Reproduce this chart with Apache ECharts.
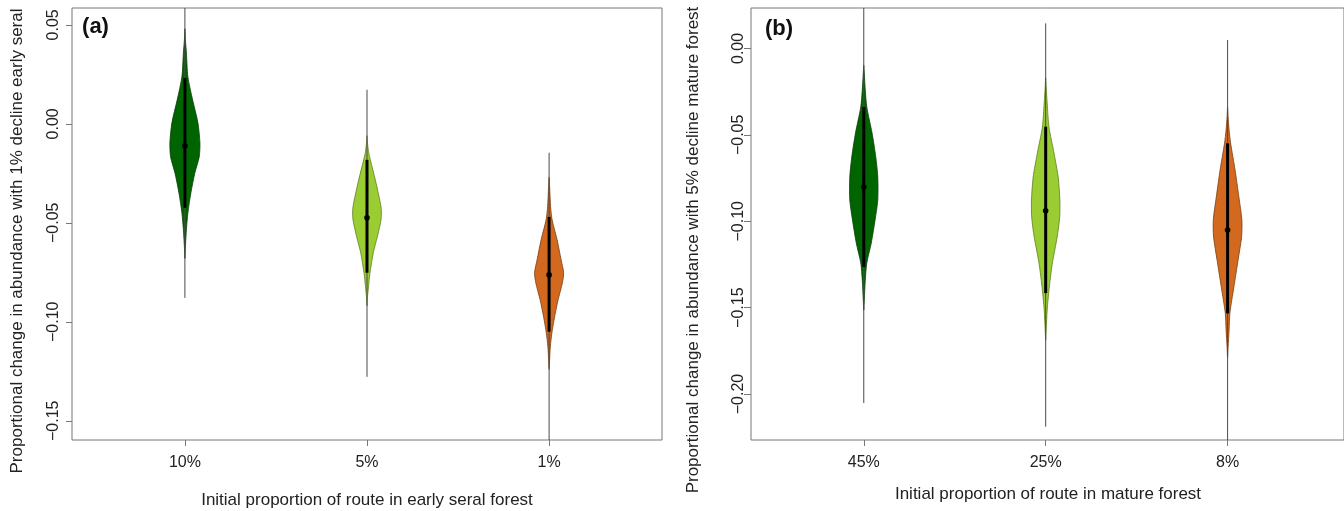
<!DOCTYPE html>
<html>
<head>
<meta charset="utf-8">
<script src="https://cdn.jsdelivr.net/npm/echarts@6/dist/echarts.min.js"></script>
<style>
html,body{margin:0;padding:0;background:#fff;overflow:hidden;}
#chart{width:1344px;height:511px;}
</style>
</head>
<body>
<div id="chart"></div>
<script>
// ---------- DATA ----------
const categoriesA = ['10%', '5%', '1%'];
const categoriesB = ['45%', '25%', '8%'];
const yTicksA = [-0.15, -0.10, -0.05, 0.00, 0.05];
const yTicksB = [-0.20, -0.15, -0.10, -0.05, 0.00];

// panel (a): whiskers, quartiles, medians
const whiskerLowA  = [-0.0879, -0.1278, -0.1597];
const whiskerHighA = [0.0585, 0.0172, -0.0146];
const q1A = [-0.0424, -0.0752, -0.1050];
const q3A = [0.0232, -0.0182, -0.0470];
const medianA = [-0.0111, -0.0475, -0.0763];

// panel (b)
const whiskerLowB  = [-0.2052, -0.2189, -0.2266];
const whiskerHighB = [0.0234, 0.0145, 0.0049];
const q1B = [-0.1265, -0.1416, -0.1533];
const q3B = [-0.0339, -0.0453, -0.0549];
const medianB = [-0.0802, -0.0939, -0.1051];

// violin density profiles (value, relative density)
const a1Y = [0.0480, 0.0424, 0.0359, 0.0237, 0.0121, 0.0005, -0.0096, -0.0167, -0.0247, -0.0348, -0.0449, -0.0535, -0.0621, -0.0680];
const a1D = [0, 0.5, 1.5, 3, 7.7, 13, 15, 14.3, 10, 6, 3, 1.5, 0.5, 0];
const a2Y = [-0.0060, -0.0096, -0.0140, -0.0182, -0.0283, -0.0399, -0.0434, -0.0485, -0.0571, -0.0651, -0.0752, -0.0823, -0.0874, -0.0920];
const a2D = [0, 0.5, 1.5, 3.3, 8.3, 13.3, 14.3, 14, 10.3, 6.3, 3, 1.5, 0.5, 0];
const a3Y = [-0.0270, -0.0318, -0.0419, -0.0485, -0.0586, -0.0687, -0.0752, -0.0803, -0.0889, -0.0975, -0.1056, -0.1126, -0.1192, -0.1240];
const a3D = [0, 0.5, 1.5, 3, 8, 12, 14.5, 13.3, 9, 5.5, 2.8, 1.2, 0.5, 0];

const b1Y = [-0.0098, -0.0142, -0.0241, -0.0339, -0.0490, -0.0628, -0.0744, -0.0877, -0.0993, -0.1126, -0.1242, -0.1340, -0.1456, -0.1514];
const b1D = [0, 0.5, 1.5, 3, 8.3, 12, 14, 14, 11.3, 7.5, 3, 1.5, 0.5, 0];
const b2Y = [-0.0170, -0.0222, -0.0316, -0.0455, -0.0605, -0.0744, -0.0877, -0.0976, -0.1091, -0.1242, -0.1398, -0.1514, -0.1630, -0.1690];
const b2D = [0, 0.5, 1.5, 3.3, 8.3, 12.5, 14.2, 14, 11.5, 6.7, 3.3, 1.5, 0.5, 0];
const b3Y = [-0.0340, -0.0395, -0.0472, -0.0547, -0.0704, -0.0860, -0.0993, -0.1091, -0.1225, -0.1381, -0.1532, -0.1630, -0.1728, -0.1790];
const b3D = [0, 0.5, 1.5, 3, 7.5, 11.3, 14.3, 14, 10.5, 6.3, 2.3, 1.5, 0.5, 0];

const titleYA = 'Proportional change in abundance with 1% decline early seral';
const titleYB = 'Proportional change in abundance with 5% decline mature forest';
const titleXA = 'Initial proportion of route in early seral forest';
const titleXB = 'Initial proportion of route in mature forest';

// ---------- STYLE ----------
const fills = ['#006400', '#9ACD32', '#D2691E'];
const strokes = ['#0b3d0b', '#5f7f1e', '#7a3d12'];
const densScale = 1 / 182;   // x-units per density unit
const FONT = '"Liberation Sans", Arial, sans-serif';
const TXT = '#222';
const AX = '#777';

function fmtY(v) {
  const s = Math.abs(v).toFixed(2);
  return (v < -1e-9 ? '\u2212' : '') + s;
}

function makeRender(profY, profD, wLo, wHi, q1, q3, med) {
  return function (params, api) {
    const i = params.dataIndex;
    const cx = i + 1;
    const ys = profY[i], ds = profD[i];
    const n = ys.length;
    const pts = [];
    pts.push(api.coord([cx, ys[0]]));
    for (let k = 1; k < n - 1; k++) pts.push(api.coord([cx + ds[k] * densScale, ys[k]]));
    pts.push(api.coord([cx, ys[n - 1]]));
    for (let k = n - 2; k >= 1; k--) pts.push(api.coord([cx - ds[k] * densScale, ys[k]]));
    const top = api.coord([cx, wHi[i]]);
    const bot = api.coord([cx, wLo[i]]);
    const b1 = api.coord([cx, q3[i]]);
    const b2 = api.coord([cx, q1[i]]);
    const m = api.coord([cx, med[i]]);
    return {
      type: 'group',
      children: [
        { type: 'polygon', shape: { points: pts, smooth: 0.25 },
          style: { fill: fills[i], stroke: strokes[i], lineWidth: 0.8 } },
        { type: 'line', shape: { x1: top[0], y1: top[1], x2: bot[0], y2: bot[1] },
          style: { stroke: '#4a4a4a', lineWidth: 1 } },
        { type: 'line', shape: { x1: b1[0], y1: b1[1], x2: b2[0], y2: b2[1] },
          style: { stroke: '#000', lineWidth: 3 } },
        { type: 'circle', shape: { cx: m[0], cy: m[1], r: 2.8 },
          style: { fill: '#000' } }
      ]
    };
  };
}

function xAxisCfg(gi, labels, xmax) {
  return {
    gridIndex: gi, type: 'value', min: 0.38, max: xmax,
    splitLine: { show: false },
    axisLine: { show: false, onZero: false },
    axisTick: { show: true, customValues: [1, 2, 3], length: 6, lineStyle: { color: AX, width: 1 } },
    axisLabel: { customValues: [1, 2, 3], formatter: v => labels[Math.round(v) - 1],
      fontSize: 16, color: TXT, fontFamily: FONT, margin: 15 }
  };
}
function yAxisCfg(gi, min, max, ticks, margin, tickLen) {
  return {
    gridIndex: gi, type: 'value', min: min, max: max,
    splitLine: { show: false },
    axisLine: { show: false, onZero: false },
    axisTick: { show: true, customValues: ticks, length: tickLen, lineStyle: { color: AX, width: 1 } },
    axisLabel: { customValues: ticks, formatter: fmtY, rotate: 90,
      fontSize: 16, color: TXT, fontFamily: FONT, margin: margin }
  };
}

const chart = echarts.init(document.getElementById('chart'), null, { renderer: 'canvas' });
chart.setOption({
  animation: false,
  backgroundColor: '#fff',
  grid: [
    { left: 72, top: 8, width: 590, height: 432, show: true, borderColor: AX, borderWidth: 1, backgroundColor: 'transparent' },
    { left: 751, top: 8, width: 595, height: 432, show: true, borderColor: AX, borderWidth: 1, backgroundColor: 'transparent' }
  ],
  xAxis: [xAxisCfg(0, categoriesA, 3.62), xAxisCfg(1, categoriesB, 3.64)],
  yAxis: [
    yAxisCfg(0, -0.1597, 0.0585, yTicksA, 10, 6),
    yAxisCfg(1, -0.2266, 0.0234, yTicksB, 4, 7)
  ],
  series: [
    { type: 'custom', xAxisIndex: 0, yAxisIndex: 0, clip: true,
      data: categoriesA.map((c, i) => [i + 1, medianA[i]]),
      renderItem: makeRender([a1Y, a2Y, a3Y], [a1D, a2D, a3D], whiskerLowA, whiskerHighA, q1A, q3A, medianA) },
    { type: 'custom', xAxisIndex: 1, yAxisIndex: 1, clip: true,
      data: categoriesB.map((c, i) => [i + 1, medianB[i]]),
      renderItem: makeRender([b1Y, b2Y, b3Y], [b1D, b2D, b3D], whiskerLowB, whiskerHighB, q1B, q3B, medianB) }
  ],
  graphic: [
    { type: 'text', x: 17.5, y: 241, rotation: Math.PI / 2,
      style: { text: titleYA, font: '17px ' + FONT, fill: TXT, align: 'center', verticalAlign: 'middle' } },
    { type: 'text', x: 693, y: 250, rotation: Math.PI / 2,
      style: { text: titleYB, font: '17px ' + FONT, fill: TXT, align: 'center', verticalAlign: 'middle' } },
    { type: 'text', x: 367, y: 500.5,
      style: { text: titleXA, font: '17px ' + FONT, fill: TXT, align: 'center', verticalAlign: 'middle' } },
    { type: 'text', x: 1048, y: 494,
      style: { text: titleXB, font: '17px ' + FONT, fill: TXT, align: 'center', verticalAlign: 'middle' } },
    { type: 'text', x: 95.5, y: 27,
      style: { text: '(a)', font: 'bold 22px ' + FONT, fill: '#111', align: 'center', verticalAlign: 'middle' } },
    { type: 'text', x: 779, y: 29,
      style: { text: '(b)', font: 'bold 22px ' + FONT, fill: '#111', align: 'center', verticalAlign: 'middle' } }
  ]
});
</script>
</body>
</html>
